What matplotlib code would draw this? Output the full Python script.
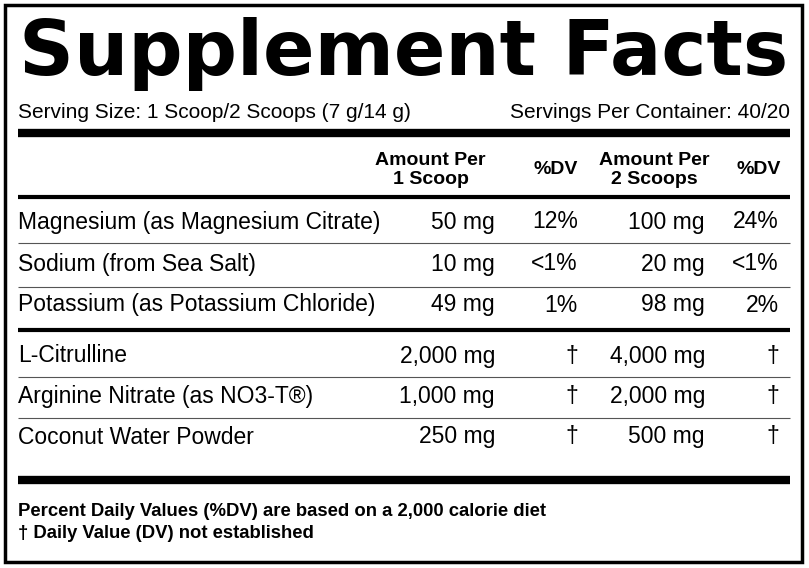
import matplotlib
matplotlib.use("Agg")
import matplotlib.pyplot as plt

plt.rcParams['font.family'] = ['Liberation Sans', 'DejaVu Sans']

title = "Supplement Facts"
serving_left = "Serving Size: 1 Scoop/2 Scoops (7 g/14 g)"
serving_right = "Servings Per Container: 40/20"
headers = [("Amount Per\n1 Scoop", 486), ("%DV", 578), ("Amount Per\n2 Scoops", 710), ("%DV", 781)]
names = ["Magnesium (as Magnesium Citrate)", "Sodium (from Sea Salt)", "Potassium (as Potassium Chloride)",
         "L-Citrulline", "Arginine Nitrate (as NO3-T®)", "Coconut Water Powder"]
amt1 = ["50 mg", "10 mg", "49 mg", "2,000 mg", "1,000 mg", "250 mg"]
dv1 = ["12%", "<1%", "1%", "†", "†", "†"]
amt2 = ["100 mg", "20 mg", "98 mg", "4,000 mg", "2,000 mg", "500 mg"]
dv2 = ["24%", "<1%", "2%", "†", "†", "†"]
foot = ["Percent Daily Values (%DV) are based on a 2,000 calorie diet", "† Daily Value (DV) not established"]

fig = plt.figure(figsize=(8.09, 5.68), dpi=100)
ax = fig.add_axes([0, 0, 1, 1])
ax.set_xlim(0, 809); ax.set_ylim(568, 0); ax.axis('off')

ax.add_patch(plt.Rectangle((5, 5), 797, 557, fill=False, lw=2.5, ec='black'))
t = ax.text(404, 54, title, fontsize=72, fontweight='heavy', ha='center', va='center',
            family=['DejaVu Sans'])
fig.canvas.draw()
bb = t.get_window_extent()
t.set_fontsize(72 * 770 / bb.width)

ax.text(18, 112, serving_left, fontsize=15, va='center')
ax.text(790, 112, serving_right, fontsize=15, va='center', ha='right')

def hline(y, lw, x0=18, x1=790, c='black'):
    ax.plot([x0, x1], [y, y], color=c, lw=lw, solid_capstyle='butt')

hline(133, 6)
for txt, x in headers:
    ax.text(x, 170, txt, fontsize=14, fontweight='bold', ha='right', va='center',
            multialignment='center', linespacing=1.15)
hline(197, 3)

ys = [222, 264, 305, 356, 397, 437]
for i, y in enumerate(ys):
    ax.text(18, y, names[i], fontsize=16.5, va='center')
    ax.text(495, y, amt1[i], fontsize=16.5, va='center', ha='right')
    ax.text(578, y, dv1[i], fontsize=16.5, va='center', ha='right')
    ax.text(705, y, amt2[i], fontsize=16.5, va='center', ha='right')
    ax.text(779, y, dv2[i], fontsize=16.5, va='center', ha='right')
for y in [243, 287, 377, 418]:
    hline(y, 0.8, c='#555555')
hline(330, 3)
hline(480, 6)
ax.text(18, 511, foot[0], fontsize=13.3, fontweight='bold', va='center')
ax.text(18, 533, foot[1], fontsize=13.3, fontweight='bold', va='center')

fig.savefig("out.png", dpi=100)
